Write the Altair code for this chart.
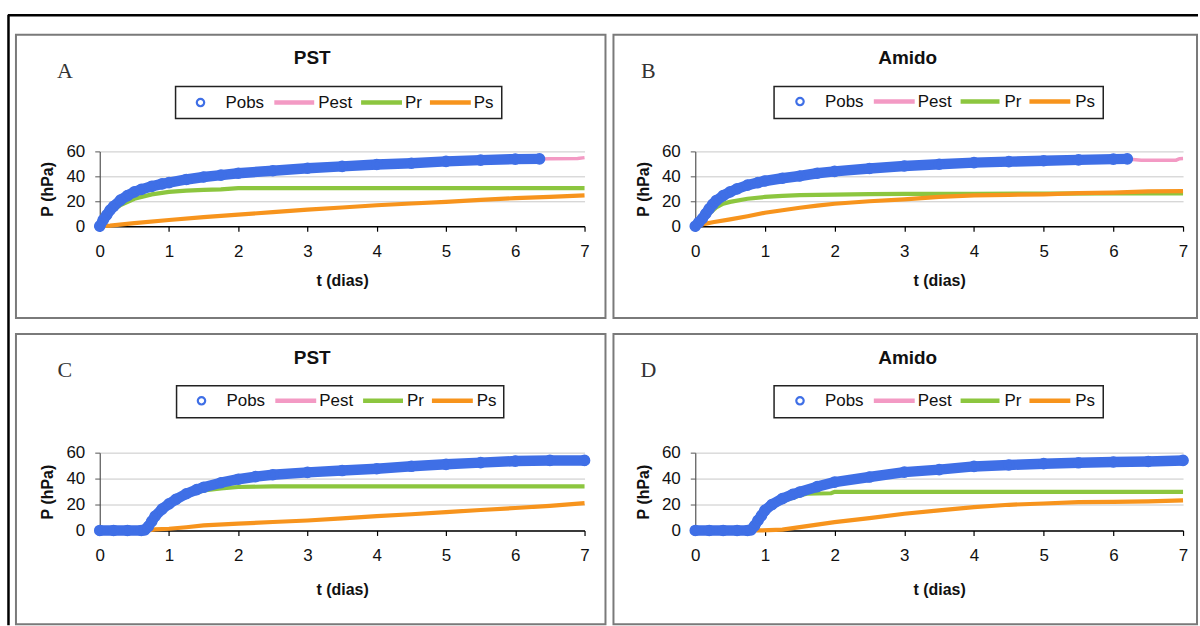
import altair as alt
import pandas as pd

# ---------------- data ----------------
# Panel A : PST
A_obs_t = [0, 0.05, 0.1, 0.15, 0.2, 0.3, 0.4, 0.5, 0.6, 0.75, 0.9, 1.0, 1.25, 1.5, 1.75, 2.0, 2.5, 3.0, 3.5, 4.0, 4.5, 5.0, 5.5, 6.0, 6.35]
A_obs_p = [0, 5, 9, 13, 16, 21, 24.5, 27.5, 29.5, 32, 34, 35, 37.5, 39.5, 41, 42.5, 44.5, 46.5, 48, 49.5, 50.5, 52, 53, 53.8, 54]
A_est_t = [0, 0.1, 0.2, 0.3, 0.5, 0.75, 1, 1.5, 2, 3, 4, 5, 6, 6.35, 6.5, 6.9, 7]
A_est_p = [0, 9, 16, 21, 27.5, 32, 35, 39.5, 42.5, 46.5, 49.5, 52, 53.8, 54, 54.2, 54.3, 55]
A_pr_t = [0, 0.1, 0.2, 0.3, 0.5, 0.75, 1, 1.25, 1.5, 1.75, 1.9, 2, 3, 4, 5, 6, 7]
A_pr_p = [0, 7, 13, 17, 22, 25.5, 27.5, 28.5, 29.2, 29.5, 30.2, 30.5, 30.6, 30.6, 30.6, 30.6, 30.6]
A_ps_t = [0, 0.15, 0.5, 1, 1.5, 2, 2.5, 3, 3.5, 4, 4.5, 5, 5.5, 6, 6.5, 7]
A_ps_p = [0, 0.5, 2.5, 5, 7.3, 9.3, 11.3, 13.3, 15, 16.8, 18.2, 19.5, 21.2, 22.5, 23.5, 24.8]

# Panel B : Amido
B_obs_t = [0, 0.05, 0.1, 0.15, 0.2, 0.25, 0.3, 0.4, 0.5, 0.6, 0.75, 0.9, 1.0, 1.25, 1.5, 1.75, 2.0, 2.5, 3.0, 3.5, 4.0, 4.5, 5.0, 5.5, 6.0, 6.2]
B_obs_p = [0, 3, 6, 10, 14, 17.5, 20.5, 24.5, 27.5, 30, 33, 35, 36.3, 38.5, 40.3, 42.5, 44, 46.3, 48.3, 49.7, 51, 51.8, 52.5, 53.2, 53.8, 54]
B_est_t = [0, 0.25, 0.5, 1, 1.5, 2, 3, 4, 5, 6, 6.2, 6.4, 6.9, 6.95, 7]
B_est_p = [0, 17.5, 27.5, 36.3, 40.3, 44, 48.3, 51, 52.5, 53.8, 54, 53, 53, 54.2, 54.3]
B_pr_t = [0, 0.1, 0.2, 0.3, 0.4, 0.5, 0.75, 1, 1.25, 1.5, 2, 2.5, 3, 4, 5, 6, 7]
B_pr_p = [0, 5, 10, 15, 18, 19.5, 22, 23.5, 24.3, 25, 25.4, 25.8, 26, 26, 26.2, 26.3, 26.4]
B_ps_t = [0, 0.1, 0.25, 0.5, 0.75, 1, 1.25, 1.5, 1.75, 2, 2.5, 3, 3.5, 4, 4.5, 5, 5.5, 6, 6.5, 7]
B_ps_p = [0, 1.5, 3.2, 5.5, 8, 10.8, 12.8, 14.8, 16.5, 18, 20, 21.5, 23.5, 24.8, 25.2, 25.6, 26.5, 27, 28, 28.2]

# Panel C : PST
C_obs_t = [0, 0.2, 0.4, 0.6, 0.65, 0.7, 0.75, 0.8, 0.9, 1.0, 1.1, 1.25, 1.4, 1.5, 1.75, 2.0, 2.25, 2.5, 3.0, 3.5, 4.0, 4.5, 5.0, 5.5, 6.0, 6.5, 7.0]
C_obs_p = [0, 0, 0, 0, 0.5, 3, 7, 11, 16.5, 20.5, 24, 28.3, 31.5, 33.3, 36.8, 39.5, 41.5, 43, 44.8, 46.2, 47.6, 49.5, 51, 52.3, 53.5, 54, 54]
C_est_t = [0, 0.65, 0.75, 1, 1.25, 1.5, 2, 2.5, 3, 4, 5, 6, 7]
C_est_p = [0, 0, 7, 20.5, 28.3, 33.3, 39.5, 43, 44.8, 47.6, 51, 53.5, 54]
C_pr_t = [0, 0.65, 0.75, 0.9, 1, 1.25, 1.5, 1.75, 2, 2.5, 3, 4, 5, 6, 7]
C_pr_p = [0, 0, 6, 15, 19.5, 26.5, 30.8, 32.5, 33.5, 34, 34, 34, 34, 34, 34]
C_ps_t = [0, 0.7, 0.8, 1, 1.25, 1.5, 2, 2.5, 3, 3.5, 4, 4.5, 5, 5.5, 6, 6.5, 7]
C_ps_p = [0, 0, 0.8, 1.3, 2.5, 3.9, 5.2, 6.5, 7.7, 9.3, 11, 12.5, 14.2, 15.8, 17.3, 19, 21.1]

# Panel D : Amido
D_obs_t = [0, 0.2, 0.4, 0.6, 0.75, 0.8, 0.85, 0.9, 0.95, 1.0, 1.1, 1.25, 1.4, 1.5, 1.75, 2.0, 2.5, 3.0, 3.5, 4.0, 4.5, 5.0, 5.5, 6.0, 6.5, 7.0]
D_obs_p = [0, 0, 0, 0, 0, 0.5, 3.5, 7.7, 11.5, 15.5, 20, 24.5, 27.8, 29.6, 33.8, 37.3, 41.2, 45, 46.9, 49.4, 50.5, 51.5, 52.2, 52.8, 53.2, 54]
D_est_t = [0, 0.8, 0.9, 1, 1.25, 1.5, 2, 2.5, 3, 4, 5, 6, 7]
D_est_p = [0, 0.5, 7.7, 15.5, 24.5, 29.6, 37.3, 41.2, 45, 49.4, 51.5, 52.8, 54]
D_pr_t = [0, 0.8, 0.9, 1, 1.25, 1.5, 1.6, 1.75, 1.95, 2.0, 3, 4, 5, 6, 7]
D_pr_p = [0, 0, 7, 14, 22.5, 27, 28.3, 28.5, 28.7, 29.8, 29.8, 29.8, 29.8, 29.8, 29.8]
D_ps_t = [0, 0.95, 1.25, 1.5, 2, 2.5, 3, 3.5, 4, 4.5, 5, 5.5, 6, 6.5, 7]
D_ps_p = [0, 0, 0.7, 2.6, 6.4, 9.5, 12.9, 15.5, 18, 19.8, 20.8, 21.9, 22.1, 22.5, 23.2]

titles = ["PST", "Amido", "PST", "Amido"]
letters = ["A", "B", "C", "D"]
legend_labels = ["Pobs", "Pest", "Pr", "Ps"]
x_ticks = [0, 1, 2, 3, 4, 5, 6, 7]
y_ticks = [0, 20, 40, 60]

# ---------------- styles ----------------
BLUE = "#3f6fe6"
PINK = "#f39ac4"
GREEN = "#8cc63f"
ORANGE = "#f7941d"
SANS = "Liberation Sans"
SERIF = "Liberation Serif"
TXT = "#111111"

one = alt.Data(values=[{"k": 1}])


def series_df(ts, ps):
    return pd.DataFrame({"t": ts, "P": ps})


def panel(idx, obs, est, pr, ps, width, height, geo):
    xt_pad = geo["xtp"]
    x_enc = alt.X("t:Q", scale=alt.Scale(domain=[0, 7], nice=False),
                  axis=alt.Axis(values=x_ticks, title="t (dias)", grid=False,
                                domainColor="#000000", domainWidth=1.5,
                                tickColor="#000000", tickSize=5, tickWidth=1.2,
                                labelFont=SANS, labelFontSize=17, labelColor=TXT,
                                labelPadding=12, labelFlush=False,
                                titleFont=SANS, titleFontSize=16, titleFontWeight="bold",
                                titleColor=TXT, titlePadding=xt_pad))
    y_enc = alt.Y("P:Q", scale=alt.Scale(domain=[0, 60], nice=False),
                  axis=alt.Axis(values=y_ticks, title="P (hPa)", grid=True,
                                gridColor="#c8c8c8", gridWidth=1,
                                domainColor="#555555", domainWidth=1.2,
                                tickColor="#555555", tickSize=5,
                                labelFont=SANS, labelFontSize=17, labelColor=TXT,
                                labelPadding=10, labelFlush=False,
                                titleFont=SANS, titleFontSize=16, titleFontWeight="bold",
                                titleColor=TXT, titlePadding=10))

    layers = []
    # panel frame and outer frame
    if idx == 0:
        layers.append(alt.Chart(one).mark_rect(fill="white").encode(
            x=alt.value(-99), x2=alt.value(-98), y=alt.value(-150), y2=alt.value(-149)))
        layers.append(alt.Chart(one).mark_rule(color="#000000", strokeWidth=2.5).encode(
            x=alt.value(-92), x2=alt.value(1101), y=alt.value(-136.5)))
        layers.append(alt.Chart(one).mark_rule(color="#000000", strokeWidth=2.5).encode(
            x=alt.value(-91.5), y=alt.value(-137), y2=alt.value(475)))
    bx0, bx1, by0, by1 = geo["border"]
    layers.append(alt.Chart(one).mark_rect(filled=False, stroke="#7a7a7a", strokeWidth=2).encode(
        x=alt.value(bx0), x2=alt.value(bx1), y=alt.value(by0), y2=alt.value(by1)))
    # title and letter
    layers.append(alt.Chart(one).mark_text(text=titles[idx], font=SANS, fontSize=19, fontWeight="bold",
                                           color=TXT, align="center", baseline="middle").encode(
        x=alt.value(geo["title"][0]), y=alt.value(geo["title"][1])))
    layers.append(alt.Chart(one).mark_text(text=letters[idx], font=SERIF, fontSize=22,
                                           color="#333333", align="center", baseline="middle").encode(
        x=alt.value(geo["letter"][0]), y=alt.value(geo["letter"][1])))
    # legend box
    lx0, lx1, ly0, ly1 = geo["lbox"]
    layers.append(alt.Chart(one).mark_rect(filled=False, stroke="#222222", strokeWidth=1.5).encode(
        x=alt.value(lx0), x2=alt.value(lx1), y=alt.value(ly0), y2=alt.value(ly1)))
    ly = geo["ly"]
    L = geo["litems"]
    layers.append(alt.Chart(one).mark_point(shape="circle", filled=False, size=55, strokeWidth=2.2,
                                            color=BLUE, opacity=1).encode(
        x=alt.value(L[0]), y=alt.value(ly)))
    layers.append(alt.Chart(one).mark_text(text=legend_labels[0], font=SANS, fontSize=17, color=TXT,
                                           align="left", baseline="middle").encode(
        x=alt.value(L[1]), y=alt.value(ly)))
    for (a, b, c), col, lab in zip([(L[2], L[3], L[4]), (L[5], L[6], L[7]), (L[8], L[9], L[10])],
                                   [PINK, GREEN, ORANGE], legend_labels[1:]):
        layers.append(alt.Chart(one).mark_rule(color=col, strokeWidth=4.5).encode(
            x=alt.value(a), x2=alt.value(b), y=alt.value(ly)))
        layers.append(alt.Chart(one).mark_text(text=lab, font=SANS, fontSize=17, color=TXT,
                                               align="left", baseline="middle").encode(
            x=alt.value(c), y=alt.value(ly)))

    # data series
    layers.append(alt.Chart(series_df(*est)).mark_line(color=PINK, strokeWidth=3.5).encode(
        x=x_enc, y=y_enc))
    layers.append(alt.Chart(series_df(*pr)).mark_line(color=GREEN, strokeWidth=4.2).encode(
        x=x_enc, y=y_enc))
    layers.append(alt.Chart(series_df(*ps)).mark_line(color=ORANGE, strokeWidth=4.2).encode(
        x=x_enc, y=y_enc))
    layers.append(alt.Chart(series_df(*obs)).mark_line(color=BLUE, strokeWidth=10.5, strokeCap="round",
                                                       strokeJoin="round").encode(x=x_enc, y=y_enc))
    layers.append(alt.Chart(series_df(*obs)).mark_point(shape="circle", filled=False, size=75,
                                                        strokeWidth=3, color=BLUE, opacity=1).encode(
        x=x_enc, y=y_enc))
    return alt.layer(*layers).properties(width=width, height=height)


geoA = dict(border=(-84, 507, -117, 167), title=(213, -94), letter=(-35, -81),
            lbox=(76, 403, -65, -33), ly=-49,
            litems=[101, 126, 175, 215, 219, 262, 303, 306, 331, 372, 375], xtp=13)
geoB = dict(border=(-82, 503, -117, 167), title=(213, -94), letter=(-47, -81),
            lbox=(79, 409, -65, -33), ly=-50,
            litems=[105, 130, 179, 220, 223, 266, 305, 310, 335, 376, 381], xtp=13)
geoC = dict(border=(-84, 507, -119, 172), title=(213, -95), letter=(-35, -83),
            lbox=(77, 405, -67, -35), ly=-52,
            litems=[102, 127, 176, 217, 220, 264, 304, 308, 333, 374, 378], xtp=18)
geoD = dict(border=(-82, 503, -119, 172), title=(213, -95), letter=(-47, -83),
            lbox=(79, 409, -67, -35), ly=-52,
            litems=[105, 130, 179, 220, 223, 266, 305, 310, 335, 376, 381], xtp=18)

pA = panel(0, (A_obs_t, A_obs_p), (A_est_t, A_est_p), (A_pr_t, A_pr_p), (A_ps_t, A_ps_p), 486, 75, geoA)
pB = panel(1, (B_obs_t, B_obs_p), (B_est_t, B_est_p), (B_pr_t, B_pr_p), (B_ps_t, B_ps_p), 489, 75, geoB)
pC = panel(2, (C_obs_t, C_obs_p), (C_est_t, C_est_p), (C_pr_t, C_pr_p), (C_ps_t, C_ps_p), 486, 78, geoC)
pD = panel(3, (D_obs_t, D_obs_p), (D_est_t, D_est_p), (D_pr_t, D_pr_p), (D_ps_t, D_ps_p), 489, 78, geoD)

chart = alt.concat(pA, pB, pC, pD, columns=2, spacing={"row": 227, "column": 111},
                   bounds="flush", align="each").properties(
    padding=0, background="white"
).configure_view(stroke="transparent")

chart.save("out.html", embed_options={"renderer": "svg", "actions": False})
